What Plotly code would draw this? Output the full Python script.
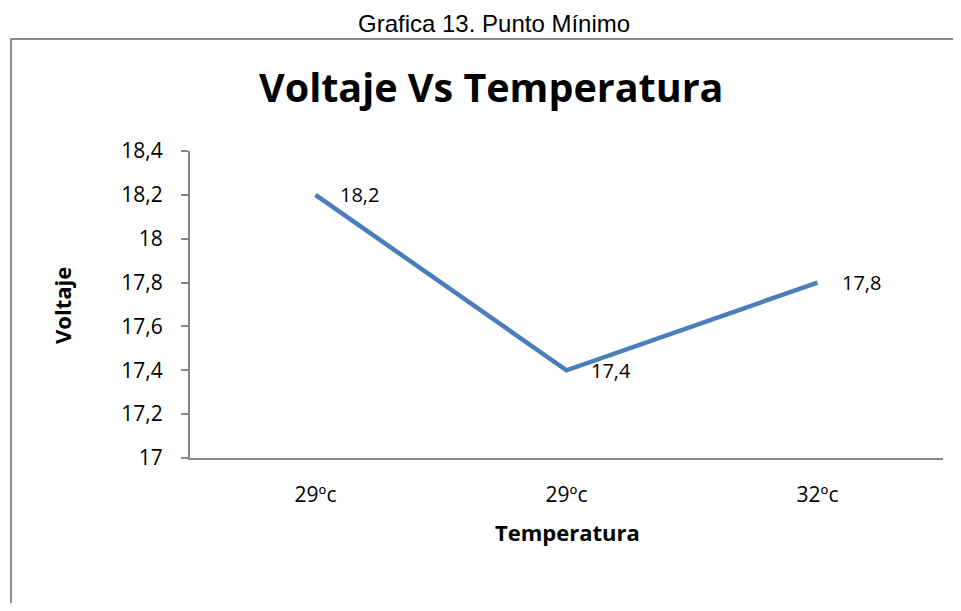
import plotly.graph_objects as go

# ---- data ----
temperaturas = ["29ºc", "29ºc", "32ºc"]
voltaje = [18.2, 17.4, 17.8]
y_ticks = [17, 17.2, 17.4, 17.6, 17.8, 18, 18.2, 18.4]
y_tick_labels = ["17", "17,2", "17,4", "17,6", "17,8", "18", "18,2", "18,4"]
header = "Grafica 13. Punto Mínimo"
chart_title = "Voltaje Vs Temperatura"
x_title = "Temperatura"
y_title = "Voltaje"

OFF = 8  # page body margin
W, H = 961 - 2 * OFF, 611 - 2 * OFF
L, T = 190 - OFF, 151 - OFF
R = W - (943 - OFF)
B = H - (458 - OFF)
PW, PH = W - L - R, H - T - B

def px(x):  # screen x -> paper
    return (x - OFF - L) / PW

def py(y):  # screen y -> paper
    return (H - B - (y - OFF)) / PH

FONT = "Open Sans"
xs = list(range(len(temperaturas)))

fig = go.Figure()
fig.add_trace(go.Scatter(
    x=xs, y=voltaje, mode="lines",
    line=dict(color="#4A7EBB", width=4.5),
    hoverinfo="skip", showlegend=False,
))

annotations = []
for xi, v in zip(xs, voltaje):
    annotations.append(dict(
        x=xi, y=v, xref="x", yref="y", text=f"{v:.1f}".replace(".", ","),
        showarrow=False, xanchor="left", yanchor="middle", xshift=23,
        font=dict(family=FONT, size=20, color="#000000"), borderpad=0,
    ))

annotations += [
    dict(x=px(494), y=py(23), xref="paper", yref="paper", text=header,
         showarrow=False, xanchor="center", yanchor="middle",
         font=dict(family="Liberation Sans", size=24, color="#000000")),
    dict(x=px(491), y=py(87), xref="paper", yref="paper", text=f"<b>{chart_title}</b>",
         showarrow=False, xanchor="center", yanchor="middle",
         font=dict(family=FONT, size=39.5, color="#000000")),
    dict(x=px(567), y=py(532), xref="paper", yref="paper", text=f"<b>{x_title}</b>",
         showarrow=False, xanchor="center", yanchor="middle",
         font=dict(family=FONT, size=22, color="#000000")),
    dict(x=px(62), y=py(306), xref="paper", yref="paper", text=f"<b>{y_title}</b>",
         showarrow=False, xanchor="center", yanchor="middle", textangle=-90,
         font=dict(family=FONT, size=22, color="#000000")),
]

border = dict(color="#8C8C8C", width=2)
fig.update_layout(
    width=W, height=H,
    margin=dict(l=L, r=R, t=T, b=B, autoexpand=False),
    paper_bgcolor="white", plot_bgcolor="white",
    separators=",.",
    annotations=annotations,
    shapes=[
        dict(type="line", xref="paper", yref="paper",
             x0=px(10), x1=px(1000), y0=py(39), y1=py(39), line=border, layer="below"),
        dict(type="line", xref="paper", yref="paper",
             x0=px(11), x1=px(11), y0=py(38), y1=py(700), line=border, layer="below"),
    ],
    xaxis=dict(
        range=[-0.5, 2.5], tickvals=xs, ticktext=temperaturas,
        showgrid=False, zeroline=False, showline=True, linecolor="#868686", linewidth=2,
        ticks="", ticklabelstandoff=17,
        tickfont=dict(family=FONT, size=21, color="#000000"),
        fixedrange=True,
    ),
    yaxis=dict(
        range=[17, 18.4], tickvals=y_ticks, ticktext=y_tick_labels,
        showgrid=False, zeroline=False, showline=True, linecolor="#868686", linewidth=2,
        ticks="outside", ticklen=7, tickcolor="#868686", tickwidth=2,
        ticklabelstandoff=14,
        tickfont=dict(family=FONT, size=21, color="#000000"),
        fixedrange=True,
    ),
)

fig.write_html("out.html")
